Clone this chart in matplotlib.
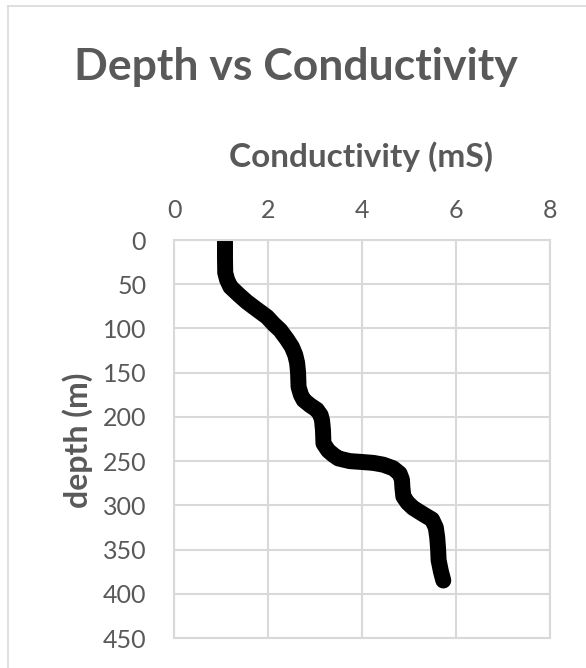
import matplotlib
matplotlib.use('Agg')
import matplotlib.pyplot as plt
from matplotlib.lines import Line2D

# Depth profile
depth_m = [0, 10, 20, 37, 45, 53, 62, 70, 78, 87, 95, 102, 112, 121, 130,
           139, 150, 166, 175, 181, 187, 192, 198, 204, 215, 230, 238, 243,
           247, 250, 251, 252, 254, 258, 264, 271, 280, 290, 297, 303, 310,
           316, 325, 336, 350, 362, 375, 385]
conductivity_ms = [1.085, 1.085, 1.085, 1.09, 1.13, 1.2, 1.38, 1.55, 1.75,
                   1.98, 2.12, 2.26, 2.4, 2.51, 2.58, 2.62, 2.64, 2.65, 2.7,
                   2.76, 2.9, 3.04, 3.12, 3.15, 3.17, 3.18, 3.28, 3.39, 3.5,
                   3.74, 4.0, 4.24, 4.45, 4.66, 4.8, 4.85, 4.86, 4.88, 4.97,
                   5.09, 5.3, 5.49, 5.57, 5.6, 5.62, 5.63, 5.68, 5.73]

x_ticks = [0, 2, 4, 6, 8]
y_ticks = [0, 50, 100, 150, 200, 250, 300, 350, 400, 450]

text_col = '#595959'
grid_col = '#d9d9d9'
plt.rcParams['font.family'] = ['Lato', 'DejaVu Sans']

W, H = 586, 668
fig = plt.figure(figsize=(W / 100, H / 100), dpi=100)
ax = fig.add_axes([174 / W, 30 / H, 376 / W, 398 / H])

ax.plot(conductivity_ms, depth_m, color='black', linewidth=11.5,
        solid_capstyle='round', solid_joinstyle='round')

ax.set_xlim(0, 8)
ax.set_ylim(450, 0)
ax.set_xticks(x_ticks)
ax.set_yticks(y_ticks)
ax.xaxis.tick_top()
ax.tick_params(axis='both', length=0, labelsize=18, labelcolor=text_col)
ax.tick_params(axis='x', pad=13)
ax.tick_params(axis='y', pad=20)
ax.grid(True, color=grid_col, linewidth=1.5)
ax.set_axisbelow(True)
for s in ax.spines.values():
    s.set_color(grid_col)
    s.set_linewidth(1.5)

# axis titles and chart title placed in figure pixels
fig.text(361 / W, 1 - 157 / H, 'Conductivity (mS)', ha='center', va='center',
         fontsize=24, fontweight='bold', color=text_col)
fig.text(78 / W, 1 - 440 / H, 'depth (m)', ha='center', va='center',
         rotation=90, fontsize=23, fontweight='bold', color=text_col)
fig.text(296 / W, 1 - 67 / H, 'Depth vs Conductivity', ha='center',
         va='center', fontsize=32, fontweight='bold', color=text_col)

# light chart-area border (top and left edges visible in the reference)
fig.add_artist(Line2D([8 / W, 1], [1 - 6 / H, 1 - 6 / H],
                      transform=fig.transFigure, color=grid_col, linewidth=1.2))
fig.add_artist(Line2D([8 / W, 8 / W], [0, 1 - 6 / H],
                      transform=fig.transFigure, color=grid_col, linewidth=1.2))

fig.savefig('out.png', dpi=100)
